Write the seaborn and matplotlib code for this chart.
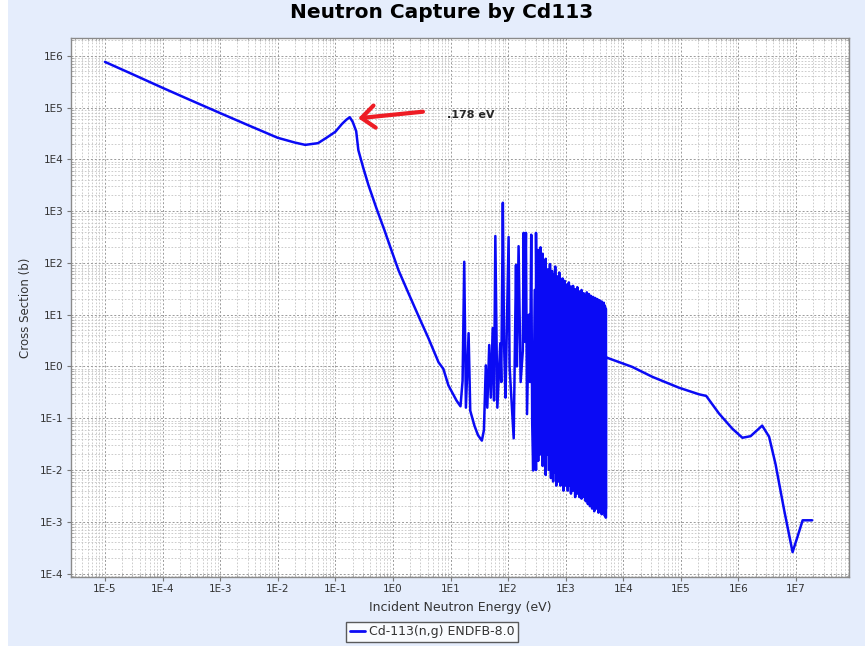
import matplotlib
matplotlib.use("Agg")
import matplotlib.pyplot as plt
import matplotlib.ticker as mticker
from matplotlib.patches import Rectangle
import numpy as np
import pandas as pd
import seaborn as sns

sns.set_style("white")
plt.rcParams['font.family'] = ['DejaVu Sans']

BG_COLOR = "#e5edfc"
LINE_COLOR = "#0a0af5"

# thermal region + 0.178 eV resonance (eV, barns)
thermal_e = [1e-5, 3e-5, 1e-4, 3e-4, 1e-3, 3e-3, 1e-2, 2e-2, 3e-2, 5e-2, 7e-2, 0.1, 0.13,
             0.155, 0.178, 0.2, 0.23, 0.251, 0.307, 0.375, 0.516, 0.711, 0.94, 1.25, 1.86,
             2.78, 4.14, 6.2, 7.5, 9.2, 12.7, 14.9]
thermal_xs = [7.6e5, 4.4e5, 2.4e5, 1.4e5, 7.8e4, 4.6e4, 2.6e4, 2.1e4, 1.9e4, 2.05e4, 2.6e4,
              3.4e4, 4.8e4, 5.8e4, 6.5e4, 5.3e4, 3.5e4, 1.5e4, 6.7e3, 3.2e3, 1.14e3, 430, 176,
              72, 26, 9.4, 3.5, 1.2, 0.9, 0.43, 0.22, 0.17]

# isolated resonances
reso_e = [16.2, 17.3, 18.5, 20.6, 22, 26, 30, 35, 38, 41, 43.5, 47, 50, 54, 57, 60, 65, 73, 76,
          81, 85, 90, 102, 106, 125, 137, 142, 152, 165, 180, 186, 193, 204, 213, 230, 240, 252,
          262, 272]
reso_xs = [0.53, 105, 0.16, 4.4, 0.14, 0.072, 0.047, 0.037, 0.059, 1.05, 0.16, 2.6, 0.25, 5.5,
           0.22, 330, 0.16, 2.8, 0.5, 1450, 2.8, 0.25, 316, 1.0, 0.041, 91, 1.0, 210, 0.5, 2.0,
           380, 3.0, 380, 0.12, 10, 0.5, 350, 0.08, 0.0098]

# dense resonance region: peak energy, peak value, valley after it
dense_e = [290, 305, 318, 333, 350, 365, 380, 397, 415, 433, 450, 470, 490,
           512, 533, 555, 580, 605, 630, 657, 685, 714, 745, 776, 810, 845, 880, 918, 958, 1000,
           1042, 1087, 1134, 1183, 1234, 1287, 1342, 1400, 1460, 1523, 1590, 1658, 1730, 1805,
           1883, 1964, 2050,
           2138, 2230, 2327, 2428, 2533, 2642, 2757, 2876, 3000, 3130, 3265, 3406, 3553, 3707,
           3867, 4034, 4209, 4391, 4580, 4780, 4980]
dense_peak = [30, 380, 8, 178, 60, 200, 25, 150, 90, 40, 120, 55, 75,
              30, 95, 45, 70, 20, 60, 85, 35, 55, 28, 65, 40, 22, 50, 33, 45, 26,
              38, 24, 42, 30, 35, 20, 36, 27, 31, 22, 34, 25, 28, 19, 30, 23, 26,
              24, 18, 27, 21, 25, 17, 23, 20, 22, 16, 21, 19, 20, 15, 19, 17, 18, 14, 17, 15, 13]
dense_valley = [0.01, 0.3, 0.015, 0.5, 0.02, 0.1, 0.012, 0.2, 0.03, 0.008, 0.15, 0.02, 0.01,
                0.05, 0.007, 0.02, 0.006, 0.1, 0.009, 0.005, 0.03, 0.006, 0.015, 0.005, 0.04,
                0.006, 0.004, 0.02, 0.005, 0.008,
                0.004, 0.015, 0.005, 0.0035, 0.01, 0.004, 0.006, 0.003, 0.008, 0.0035, 0.005,
                0.003, 0.007, 0.0028, 0.004, 0.003, 0.005,
                0.0025, 0.004, 0.0022, 0.003, 0.002, 0.0035, 0.0018, 0.0025, 0.0016, 0.003,
                0.0018, 0.0022, 0.0015, 0.0025, 0.0017, 0.0014, 0.002, 0.0015, 0.0013, 0.0018,
                0.0012]

# fast region
fast_e = [5000, 1.43e4, 3.2e4, 9.2e4, 2.06e5, 2.75e5, 4.6e5, 7.8e5, 1.17e6, 1.62e6, 2.58e6,
          3.4e6, 4.4e6, 6.2e6, 8.7e6, 1.05e7, 1.3e7, 1.9e7]
fast_xs = [1.5, 0.98, 0.63, 0.39, 0.29, 0.27, 0.123, 0.063, 0.042, 0.045, 0.072, 0.044, 0.013,
           0.0017, 2.6e-4, 5e-4, 1.07e-3, 1.07e-3]

x_ticks = [1e-5, 1e-4, 1e-3, 1e-2, 1e-1, 1e0, 1e1, 1e2, 1e3, 1e4, 1e5, 1e6, 1e7]
x_ticklabels = ["1E-5", "1E-4", "1E-3", "1E-2", "1E-1", "1E0", "1E1", "1E2", "1E3", "1E4",
                "1E5", "1E6", "1E7"]
y_ticks = [1e-4, 1e-3, 1e-2, 1e-1, 1e0, 1e1, 1e2, 1e3, 1e4, 1e5, 1e6]
y_ticklabels = ["1E-4", "1E-3", "1E-2", "1E-1", "1E0", "1E1", "1E2", "1E3", "1E4", "1E5", "1E6"]

# sawtooth: rise to each peak, fall to its valley at the next peak's energy
saw_e, saw_xs = [], []
for i in range(len(dense_e)):
    saw_e.append(dense_e[i])
    saw_xs.append(dense_peak[i])
    saw_e.append(dense_e[i + 1] if i + 1 < len(dense_e) else dense_e[i])
    saw_xs.append(dense_valley[i])

df = pd.DataFrame({
    "E": thermal_e + reso_e + saw_e + fast_e,
    "xs": thermal_xs + reso_xs + saw_xs + fast_xs,
})
df["label"] = "Cd-113(n,g) ENDFB-8.0"

W, H = 865, 646
fig = plt.figure(figsize=(W / 100, H / 100), dpi=100)
fig.patch.set_facecolor(BG_COLOR)
fig.patches.append(Rectangle((0, 0), 8 / W, 1, transform=fig.transFigure,
                             facecolor="white", edgecolor="none", zorder=-1))
ax = fig.add_axes([70.7 / W, (H - 577) / H, (849 - 70.7) / W, (577 - 38.3) / H])

sns.lineplot(data=df, x="E", y="xs", hue="label", palette=[LINE_COLOR], estimator=None,
             sort=False, linewidth=1.8, ax=ax, legend=False)

ax.set_xscale("log")
ax.set_yscale("log")
ax.set_xlim(2.54e-6, 8.3e7)
ax.set_ylim(8.6e-5, 2.17e6)

ax.xaxis.set_major_locator(mticker.FixedLocator(x_ticks))
ax.set_xticklabels(x_ticklabels)
ax.yaxis.set_major_locator(mticker.FixedLocator(y_ticks))
ax.set_yticklabels(y_ticklabels)
ax.xaxis.set_minor_locator(mticker.LogLocator(base=10, subs=np.arange(2, 10), numticks=30))
ax.yaxis.set_minor_locator(mticker.LogLocator(base=10, subs=np.arange(2, 10), numticks=30))
ax.xaxis.set_minor_formatter(mticker.NullFormatter())
ax.yaxis.set_minor_formatter(mticker.NullFormatter())

ax.grid(which="major", color="#9a9a9a", linestyle=(0, (2, 2)), linewidth=0.7)
ax.grid(which="minor", color="#c4c4c4", linestyle=(0, (2, 2)), linewidth=0.6)
ax.set_axisbelow(True)
ax.tick_params(which="major", direction="out", length=3, width=0.8, color="#777777",
               labelsize=7.5, labelcolor="#333333", bottom=True, left=True, pad=2)
ax.tick_params(which="minor", direction="in", length=2, width=0.5, color="#999999",
               bottom=True, left=True, top=True, right=True)
for sp in ax.spines.values():
    sp.set_color("#8a8a8a")
    sp.set_linewidth(1.0)

ax.set_xlabel("Incident Neutron Energy (eV)", fontsize=9, color="#333333", labelpad=5)
ax.set_ylabel("Cross Section (b)", fontsize=8.5, color="#333333", labelpad=6)

fig.text(0.51, 1 - 12 / H, "Neutron Capture by Cd113", ha="center", va="center",
         fontsize=14.5, fontweight="bold", color="black")

ax.annotate("", xy=(0.25, 6.2e4), xytext=(3.32, 8.3e4),
            arrowprops=dict(arrowstyle="->,head_length=0.95,head_width=0.8", color="#ee1c24",
                            lw=3, shrinkA=0, shrinkB=0))
ax.text(8.66, 7.2e4, ".178 eV", fontsize=8, fontweight="bold", ha="left", va="center")

handle = plt.Line2D([], [], color=LINE_COLOR, linewidth=2)
fig.legend([handle], ["Cd-113(n,g) ENDFB-8.0"], loc="center",
           bbox_to_anchor=(432 / W, 1 - 632 / H), fontsize=9, frameon=True,
           fancybox=False, edgecolor="#333333", handlelength=1.2, handletextpad=0.3,
           borderpad=0.3, labelcolor="#333333")

fig.savefig("out.png", dpi=100, facecolor=fig.get_facecolor())
